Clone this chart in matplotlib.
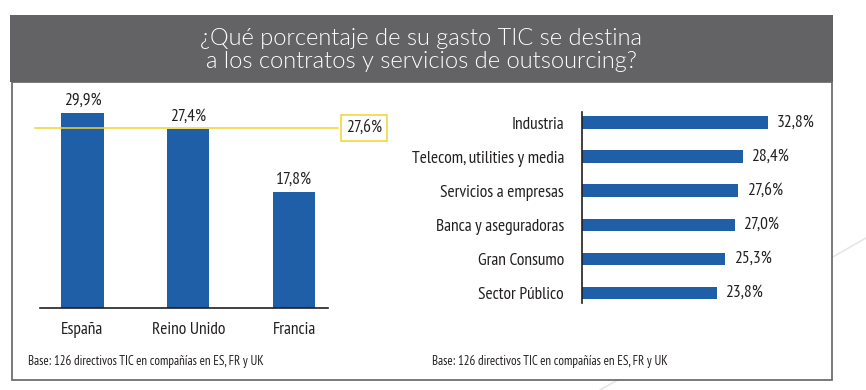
import matplotlib
matplotlib.use('Agg')
import matplotlib.pyplot as plt
from matplotlib.patches import Rectangle
from matplotlib.lines import Line2D
import matplotlib.transforms as mtransforms

plt.rcParams['font.family'] = ['PT Sans Narrow', 'DejaVu Sans']

# data
title = '¿Qué porcentaje de su gasto TIC se destina\na los contratos y servicios de outsourcing?'
countries = ['España', 'Reino Unido', 'Francia']
country_vals = [29.9, 27.4, 17.8]
avg_val = 27.6
sectors = ['Industria', 'Telecom, utilities y media', 'Servicios a empresas',
           'Banca y aseguradoras', 'Gran Consumo', 'Sector Público']
sector_vals = [32.8, 28.4, 27.6, 27.0, 25.3, 23.8]
base_note = 'Base: 126 directivos TIC en compañías en ES, FR y UK'

W, H = 866, 390
BLUE = '#1f5fa8'
YELLOW = '#f2d330'
TXT = '#231f20'
FS = 12.5


def fx(x):
    return x / W


def fy(y):
    return 1 - y / H


def fmt(v):
    return f'{v:.1f}%'.replace('.', ',')


fig = plt.figure(figsize=(W / 100, H / 100), dpi=100)

# faint decorative line behind panel
fig.add_artist(Line2D([fx(600), fx(866)], [fy(390), fy(238)], color='#e6e6e6', lw=1.2, zorder=0))

# panel and title band
fig.add_artist(Rectangle((fx(12), fy(380)), fx(832) - fx(12), fy(82) - fy(380),
                         facecolor='white', edgecolor='#6d6e71', lw=1.3, zorder=1))
fig.add_artist(Rectangle((fx(10), fy(82)), fx(833) - fx(10), fy(15) - fy(82),
                         facecolor='#636366', edgecolor='none', zorder=2))
fig.text(fx(421), fy(50), title, ha='center', va='center', color='white',
         fontsize=17, family=['Lato', 'DejaVu Sans'], fontweight=300,
         linespacing=1.12, zorder=3)

# left chart: columns by country
ax1 = fig.add_axes([fx(40), fy(308), fx(328) - fx(40), fy(95) - fy(308)])
ax1.set_zorder(3)
ax1.patch.set_visible(False)
xs = range(len(countries))
ax1.bar(xs, country_vals, width=0.4, color=BLUE, zorder=2)
ax1.set_xlim(-0.4, 2.32)
ax1.set_ylim(0, 213 / 6.52)
for s in ['top', 'right', 'left']:
    ax1.spines[s].set_visible(False)
ax1.spines['bottom'].set_color(TXT)
ax1.spines['bottom'].set_linewidth(1.2)
ax1.set_yticks([])
ax1.set_xticks(list(xs))
ax1.set_xticklabels(countries, fontsize=FS, color=TXT)
ax1.tick_params(axis='x', length=0, pad=10)
for i, v in enumerate(country_vals):
    ax1.annotate(fmt(v), (i, v), xytext=(0, 3), textcoords='offset points',
                 ha='center', va='bottom', fontsize=FS, color=TXT)

trans = mtransforms.blended_transform_factory(ax1.transAxes, ax1.transData)
ax1.plot([-0.017, 1.035], [avg_val, avg_val], color=YELLOW, lw=1.1,
         transform=trans, clip_on=False, zorder=3)
ax1.text(1.063, avg_val, fmt(avg_val), transform=trans, ha='left', va='center',
         fontsize=FS, color=TXT, clip_on=False,
         bbox=dict(boxstyle='square,pad=0.3', facecolor='white', edgecolor=YELLOW, lw=1.1))

fig.text(fx(28), fy(362), base_note, ha='left', va='center', fontsize=9.3, color=TXT, zorder=4)

# right chart: horizontal bars by sector
ax2 = fig.add_axes([fx(582), fy(303), fx(822) - fx(582), fy(112) - fy(303)])
ax2.set_zorder(3)
ax2.patch.set_visible(False)
ys = range(len(sectors))
ax2.barh(ys, sector_vals, height=0.37, color=BLUE, zorder=2)
ax2.set_ylim(len(sectors) - 1 + 0.29, -0.31)
ax2.set_xlim(0, 240 / 5.67)
for s in ['top', 'right', 'bottom']:
    ax2.spines[s].set_visible(False)
ax2.spines['left'].set_color(TXT)
ax2.spines['left'].set_linewidth(1.2)
ax2.set_xticks([])
ax2.set_yticks(list(ys))
ax2.set_yticklabels(sectors, fontsize=FS, color=TXT)
ax2.tick_params(axis='y', length=0, pad=13)
for i, v in enumerate(sector_vals):
    ax2.annotate(fmt(v), (v, i), xytext=(6, 0), textcoords='offset points',
                 ha='left', va='center', fontsize=FS, color=TXT)

fig.text(fx(432), fy(362), base_note, ha='left', va='center', fontsize=9.3, color=TXT, zorder=4)

fig.savefig('out.png', dpi=100)
